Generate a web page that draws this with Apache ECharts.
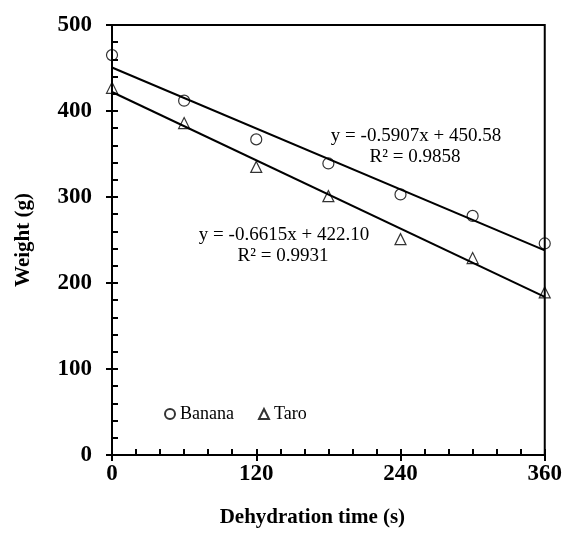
<!DOCTYPE html>
<html>
<head>
<meta charset="utf-8">
<script src="https://cdn.jsdelivr.net/npm/echarts@6/dist/echarts.min.js"></script>
<style>
html,body{margin:0;padding:0;background:#fff;}
#chart{width:565px;height:547px;}
</style>
</head>
<body>
<div id="chart"></div>
<script>
// ---- data ----
var times = [0, 60, 120, 180, 240, 300, 360];
var banana = [465, 412, 367, 339, 303, 278, 246];
var taro = [427, 386, 335, 301, 251, 229, 189];
var seriesNames = ['Banana', 'Taro'];
var fitSlope = [-0.5907, -0.6615];
var fitIntercept = [450.58, 422.10];
var fitR2 = ['0.9858', '0.9931'];
var xTicks = [0, 120, 240, 360];
var yTicks = [0, 100, 200, 300, 400, 500];

var FONT = '"Liberation Serif", "Times New Roman", serif';

function pairs(xs, ys) { return xs.map(function (x, i) { return [x, ys[i]]; }); }
function fitLine(k) {
  var x0 = times[0], x1 = times[times.length - 1];
  return [[x0, fitIntercept[k] + fitSlope[k] * x0], [x1, fitIntercept[k] + fitSlope[k] * x1]];
}
function eqText(k) {
  return 'y = ' + fitSlope[k].toFixed(4) + 'x + ' + fitIntercept[k].toFixed(2);
}

var chart = echarts.init(document.getElementById('chart'), null, {renderer: 'canvas'});
var axisLabelStyle = {color: '#000', fontFamily: FONT, fontWeight: 'bold', fontSize: 23};
var eqFont = '19px ' + FONT;

var option = {
  backgroundColor: '#fff',
  animation: false,
  grid: {left: 112, right: 20, top: 25, bottom: 92, show: true, borderColor: '#000', borderWidth: 2, backgroundColor: 'transparent'},
  legend: {
    left: 159, top: 400,
    itemWidth: 10, itemHeight: 10, itemGap: 24,
    textStyle: {color: '#000', fontFamily: FONT, fontSize: 18},
    data: seriesNames
  },
  xAxis: [{
    type: 'value', min: xTicks[0], max: xTicks[xTicks.length - 1], interval: xTicks[1] - xTicks[0],
    name: 'Dehydration time (s)', nameLocation: 'middle', nameGap: 52,
    nameTextStyle: {color: '#000', fontFamily: FONT, fontWeight: 'bold', fontSize: 21, padding: [0, 32, 0, 0]},
    axisLine: {show: true, onZero: false, lineStyle: {color: '#000', width: 2}},
    axisTick: {show: true, inside: false, length: 6, lineStyle: {color: '#000', width: 2}},
    axisLabel: Object.assign({margin: 8}, axisLabelStyle),
    splitLine: {show: false}
  }, {
    type: 'value', position: 'bottom', min: xTicks[0], max: xTicks[xTicks.length - 1], interval: 20,
    axisLine: {show: false, onZero: false},
    axisTick: {show: true, inside: true, length: 6, lineStyle: {color: '#000', width: 2}},
    axisLabel: {show: false}, splitLine: {show: false}
  }],
  yAxis: [{
    type: 'value', min: yTicks[0], max: yTicks[yTicks.length - 1], interval: yTicks[1] - yTicks[0],
    name: 'Weight (g)', nameLocation: 'middle', nameGap: 78,
    nameTextStyle: {color: '#000', fontFamily: FONT, fontWeight: 'bold', fontSize: 21},
    axisLine: {show: true, onZero: false, lineStyle: {color: '#000', width: 2}},
    axisTick: {show: true, inside: false, length: 6, lineStyle: {color: '#000', width: 2}},
    axisLabel: Object.assign({margin: 20}, axisLabelStyle),
    splitLine: {show: false}
  }, {
    type: 'value', position: 'left', min: yTicks[0], max: yTicks[yTicks.length - 1], interval: 20,
    axisLine: {show: false, onZero: false},
    axisTick: {show: true, inside: true, length: 6, lineStyle: {color: '#000', width: 2}},
    axisLabel: {show: false}, splitLine: {show: false}
  }],
  series: [
    {name: 'BananaFit', type: 'line', data: fitLine(0), showSymbol: false, symbol: 'none',
     lineStyle: {color: '#000', width: 2}, silent: true, z: 2},
    {name: 'TaroFit', type: 'line', data: fitLine(1), showSymbol: false, symbol: 'none',
     lineStyle: {color: '#000', width: 2}, silent: true, z: 2},
    {name: seriesNames[0], type: 'scatter', data: pairs(times, banana), symbol: 'circle', symbolSize: 11,
     itemStyle: {color: 'rgba(255,255,255,0)', borderColor: '#000', borderWidth: 1.2}, z: 3},
    {name: seriesNames[1], type: 'scatter', data: pairs(times, taro), symbol: 'triangle', symbolSize: 11,
     itemStyle: {color: 'rgba(255,255,255,0)', borderColor: '#000', borderWidth: 1.2}, z: 3}
  ],
  graphic: [
    {type: 'text', x: 416, y: 136, style: {text: eqText(0), fill: '#000', font: eqFont, textAlign: 'center', textVerticalAlign: 'middle'}},
    {type: 'text', x: 415, y: 157, style: {text: 'R² = ' + fitR2[0], fill: '#000', font: eqFont, textAlign: 'center', textVerticalAlign: 'middle'}},
    {type: 'text', x: 284, y: 235, style: {text: eqText(1), fill: '#000', font: eqFont, textAlign: 'center', textVerticalAlign: 'middle'}},
    {type: 'text', x: 283, y: 256, style: {text: 'R² = ' + fitR2[1], fill: '#000', font: eqFont, textAlign: 'center', textVerticalAlign: 'middle'}}
  ]
};
chart.setOption(option);
</script>
</body>
</html>
